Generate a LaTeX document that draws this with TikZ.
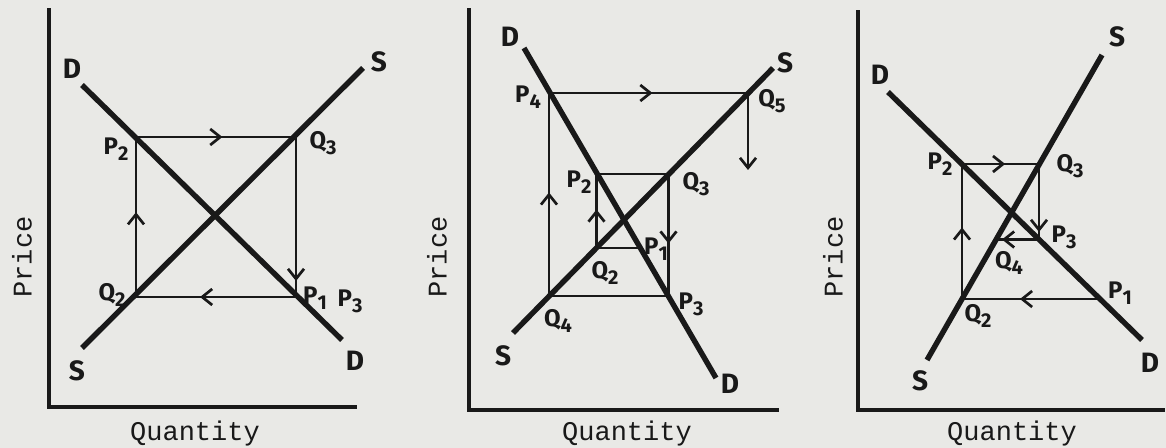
\documentclass[tikz,border=0pt]{standalone}
\usepackage{fontspec}
\setsansfont{Fira Sans}
\newfontfamily\monof{Liberation Mono}
\usetikzlibrary{arrows.meta,decorations.markings}
\newcommand\sbs[1]{\raisebox{-0.45ex}{\fontsize{10}{10}\selectfont #1}}
\tikzset{
  ink/.style={draw=black!90},
  axis/.style={ink, line width=2.1pt, line cap=rect, line join=miter},
  curve/.style={ink, line width=2.7pt},
  path/.style={ink, line width=1.35pt},
  arr/.style={decoration={markings, mark=at position #1 with {\arrow{Straight Barb[length=5pt,width=8pt,line width=1.35pt]}}}, postaction={decorate}},
  endarr/.style={-{Straight Barb[length=5pt,width=8pt,line width=1.35pt]}},
  lab/.style={font=\sffamily\bfseries\fontsize{12}{12}\selectfont, text=black!90, inner sep=0pt},
  big/.style={font=\sffamily\bfseries\fontsize{14}{14}\selectfont, text=black!90, inner sep=0pt},
  ttl/.style={font=\monof\fontsize{13.5}{13.5}\selectfont, text=black!90, inner sep=0pt},
}
\begin{document}
\begin{tikzpicture}[x=0.5pt,y=-0.5pt]
\fill[color={rgb,255:red,233;green,233;blue,230}] (0,0) rectangle (1166,448);
\useasboundingbox (0,0) rectangle (1166,448);

% ---------------- Panel 1 ----------------
\coordinate (a1t) at (49,10); \coordinate (a1o) at (49,407); \coordinate (a1r) at (355,407);
\draw[axis] (a1t) -- (a1o) -- (a1r);
\coordinate (d1a) at (82,85); \coordinate (d1b) at (342,340);
\coordinate (s1a) at (82,348); \coordinate (s1b) at (363,68);
\coordinate (p2a) at (136,137); \coordinate (q3a) at (296,137);
\coordinate (p1a) at (296,297); \coordinate (q2a) at (136,297);
\draw[path, arr=0.54] (p2a) -- (q3a);
\draw[path, arr=0.9] (q3a) -- (p1a);
\draw[path, arr=0.6] (p1a) -- (q2a);
\draw[path, arr=0.53] (q2a) -- (p2a);
\draw[curve] (d1a) -- (d1b);
\draw[curve] (s1a) -- (s1b);
\node[big] (D1t) at (72,69) {D};
\node[big] (S1t) at (379,62) {S};
\node[big] (S1b) at (77,371) {S};
\node[big] (D1b) at (355,361) {D};
\node[lab] (lP2a) at (116,149) {P\sbs{2}};
\node[lab] (lQ3a) at (323,143) {Q\sbs{3}};
\node[lab] (lP1a) at (315,298) {P\sbs{1}};
\node[lab] (lP3a) at (350,301) {P\sbs{3}};
\node[lab] (lQ2a) at (112,295) {Q\sbs{2}};
\node[ttl, rotate=90] (pr1) at (22,257) {Price};
\node[ttl] (qu1) at (195,434) {Quantity};

% ---------------- Panel 2 ----------------
\coordinate (a2t) at (469,10); \coordinate (a2o) at (469,410); \coordinate (a2r) at (777,410);
\draw[axis] (a2t) -- (a2o) -- (a2r);
\coordinate (d2a) at (524,48); \coordinate (d2b) at (716,378);
\coordinate (s2a) at (513,333); \coordinate (s2b) at (773,68);
\coordinate (p4b) at (549,93); \coordinate (q5b) at (748,93);
\coordinate (q5e) at (748,170);
\coordinate (q4b) at (549,296); \coordinate (p3b) at (668.5,296);
\coordinate (p2b) at (596.5,174); \coordinate (q3b) at (668.5,174);
\coordinate (q2b) at (596.5,248); \coordinate (p1b) at (640,248);
\draw[path, arr=0.52] (p4b) -- (q5b);
\draw[path, endarr] (q5b) -- (q5e);
\draw[path, arr=0.51] (q4b) -- (p4b);
\draw[path] (q4b) -- (p3b);
\draw[path] (p2b) -- (q3b);
\draw[path, arr=0.57] (q3b) -- (p3b);
\draw[path, arr=0.52] (q2b) -- (p2b);
\draw[path] (q2b) -- (p1b);
\draw[curve] (d2a) -- (d2b);
\draw[curve] (s2a) -- (s2b);
\node[big] (D2t) at (510,37) {D};
\node[big] (S2t) at (785,63) {S};
\node[big] (S2b) at (503,356) {S};
\node[big] (D2b) at (730,384) {D};
\node[lab] (lP4b) at (528,97) {P\sbs{4}};
\node[lab] (lQ5b) at (772,101) {Q\sbs{5}};
\node[lab] (lP2b) at (579,182) {P\sbs{2}};
\node[lab] (lQ3b) at (696,184) {Q\sbs{3}};
\node[lab] (lP1b) at (656,249) {P\sbs{1}};
\node[lab] (lQ2b) at (605,273) {Q\sbs{2}};
\node[lab] (lP3b) at (691,304) {P\sbs{3}};
\node[lab] (lQ4b) at (558,321) {Q\sbs{4}};
\node[ttl, rotate=90] (pr2) at (437,257) {Price};
\node[ttl] (qu2) at (627,434) {Quantity};

% ---------------- Panel 3 ----------------
\coordinate (a3t) at (858,12); \coordinate (a3o) at (858,410); \coordinate (a3r) at (1163,410);
\draw[axis] (a3t) -- (a3o) -- (a3r);
\coordinate (d3a) at (888,92); \coordinate (d3b) at (1142,340);
\coordinate (s3a) at (927,360); \coordinate (s3b) at (1102,55);
\coordinate (p2c) at (962,164); \coordinate (q3c) at (1039,164);
\coordinate (p3c) at (1039,239.5); \coordinate (q4c) at (996,239.5);
\coordinate (p1c) at (1100,299); \coordinate (q2c) at (962,299);
\draw[path, arr=0.56] (p2c) -- (q3c);
\draw[path, arr=0.9] (q3c) -- (p3c);
\draw[path, arr=0.86] (p3c) -- (q4c);
\draw[path, arr=0.58] (p1c) -- (q2c);
\draw[path, arr=0.53] (q2c) -- (p2c);
\draw[curve] (d3a) -- (d3b);
\draw[curve] (s3a) -- (s3b);
\node[big] (D3t) at (880,75) {D};
\node[big] (S3t) at (1117,37) {S};
\node[big] (S3b) at (920,381) {S};
\node[big] (D3b) at (1150,363) {D};
\node[lab] (lP2c) at (940,164) {P\sbs{2}};
\node[lab] (lQ3c) at (1070,166) {Q\sbs{3}};
\node[lab] (lP3c) at (1064,237) {P\sbs{3}};
\node[lab] (lQ4c) at (1009,263) {Q\sbs{4}};
\node[lab] (lP1c) at (1120,293) {P\sbs{1}};
\node[lab] (lQ2c) at (978,316) {Q\sbs{2}};
\node[ttl, rotate=90] (pr3) at (833,257) {Price};
\node[ttl] (qu3) at (1012,434) {Quantity};
\end{tikzpicture}
\end{document}
